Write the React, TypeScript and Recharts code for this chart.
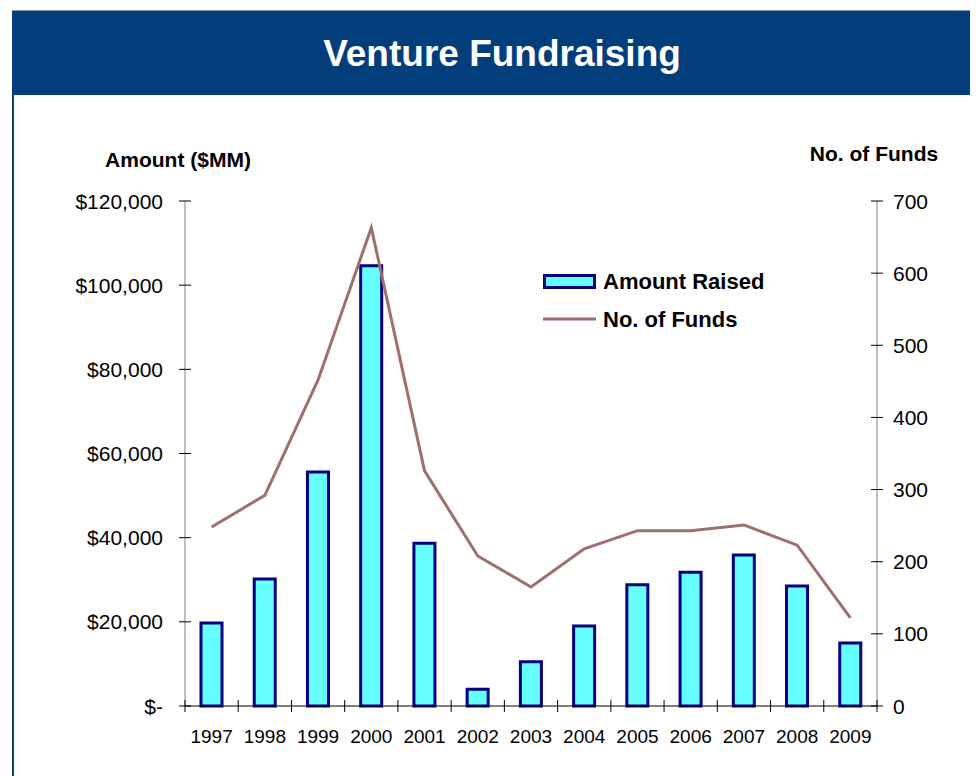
import { ComposedChart, Bar, Line, XAxis, YAxis } from 'recharts'

const years = ['1997', '1998', '1999', '2000', '2001', '2002', '2003', '2004', '2005', '2006', '2007', '2008', '2009']
const amountRaised = [19700, 30200, 55600, 104600, 38700, 4000, 10500, 19000, 28800, 31800, 35900, 28500, 15000]
const fundCount = [248, 292, 452, 663, 326, 208, 165, 218, 243, 243, 251, 223, 122]
const amountTicks = [0, 20000, 40000, 60000, 80000, 100000, 120000]
const fundTicks = [0, 100, 200, 300, 400, 500, 600, 700]

const data = years.map((year, i) => ({ year, amount: amountRaised[i], funds: fundCount[i] }))

const FONT = '"Liberation Sans", Arial, sans-serif'
const PLOT_W = 692
const BAND = PLOT_W / years.length

const fmtAmount = (v: number) => (v === 0 ? '$-' : '$' + v.toLocaleString('en-US'))

function LeftTick({ x, y, payload }: any) {
  return (
    <g>
      <line x1={x - 6} x2={x + 6} y1={y} y2={y} stroke="#000" />
      <text x={x - 22} y={y} dy="0.36em" textAnchor="end" fontSize={21} fill="#000" fontFamily={FONT}>
        {fmtAmount(payload.value)}
      </text>
    </g>
  )
}

function RightTick({ x, y, payload }: any) {
  return (
    <g>
      <line x1={x - 6} x2={x + 6} y1={y} y2={y} stroke="#000" />
      <text x={x + 16} y={y} dy="0.36em" textAnchor="start" fontSize={21} fill="#000" fontFamily={FONT}>
        {payload.value}
      </text>
    </g>
  )
}

function YearTick({ x, y, payload, index }: any) {
  const left = x - BAND / 2
  return (
    <g>
      <line x1={left} x2={left} y1={y - 6} y2={y + 6} stroke="#000" />
      {index === years.length - 1 && (
        <line x1={x + BAND / 2} x2={x + BAND / 2} y1={y - 6} y2={y + 6} stroke="#000" />
      )}
      <text x={x} y={y + 37} textAnchor="middle" fontSize={19} fill="#000" fontFamily={FONT}>
        {payload.value}
      </text>
    </g>
  )
}

function LegendBox() {
  return (
    <svg width={260} height={70} style={{ display: 'block' }}>
      <rect x={1.5} y={5.5} width={50} height={12} fill="#66FFFF" stroke="#000080" strokeWidth={3} />
      <text x={60} y={19} fontSize={22} fontWeight="bold" fontFamily={FONT} fill="#000">
        Amount Raised
      </text>
      <line x1={0} x2={53} y1={49} y2={49} stroke="#9F6F6B" strokeWidth={3} />
      <text x={60} y={57} fontSize={22} fontWeight="bold" fontFamily={FONT} fill="#000">
        No. of Funds
      </text>
    </svg>
  )
}

export default function App() {
  return (
    <div style={{ position: 'relative', width: 970, height: 768, fontFamily: FONT, background: '#fff' }}>
      <div style={{ position: 'absolute', left: 4, top: 2, width: 966, height: 1, background: '#8a97a8' }} />
      <div
        style={{
          position: 'absolute',
          left: 4,
          top: 3,
          width: 966,
          height: 84,
          background: '#033E7C',
        }}
      />
      <div
        style={{
          position: 'absolute',
          left: 0,
          top: 24,
          width: 988,
          textAlign: 'center',
          color: '#fff',
          fontSize: 37,
          fontWeight: 'bold',
          lineHeight: '44px',
        }}
      >
        Venture Fundraising
      </div>
      <div style={{ position: 'absolute', left: 4, top: 3, width: 2, height: 765, background: '#0B3D78' }} />
      <div
        style={{
          position: 'absolute',
          left: 70,
          width: 200,
          top: 139,
          textAlign: 'center',
          fontSize: 21,
          fontWeight: 'bold',
          lineHeight: '26px',
        }}
      >
        Amount ($MM)
      </div>
      <div
        style={{
          position: 'absolute',
          left: 766,
          width: 200,
          top: 133,
          textAlign: 'center',
          fontSize: 21,
          fontWeight: 'bold',
          lineHeight: '26px',
        }}
      >
        No. of Funds
      </div>
      <div style={{ position: 'absolute', left: 0, top: 0 }}>
        <ComposedChart
          width={970}
          height={768}
          data={data}
          margin={{ top: 193, right: 21, bottom: 30, left: 97 }}
          barCategoryGap={0}
        >
          <XAxis
            dataKey="year"
            height={40}
            tickSize={0}
            tickMargin={0}
            tickLine={false}
            axisLine={{ stroke: '#000', strokeWidth: 1 }}
            tick={<YearTick />}
            interval={0}
          />
          <YAxis
            yAxisId="left"
            width={80}
            domain={[0, 120000]}
            ticks={amountTicks}
            tickSize={0}
            tickMargin={0}
            tickLine={false}
            axisLine={{ stroke: '#808080' }}
            tick={<LeftTick />}
          />
          <YAxis
            yAxisId="right"
            orientation="right"
            width={80}
            domain={[0, 700]}
            ticks={fundTicks}
            tickSize={0}
            tickMargin={0}
            tickLine={false}
            axisLine={{ stroke: '#808080' }}
            tick={<RightTick />}
          />
          <Bar
            yAxisId="left"
            dataKey="amount"
            name="Amount Raised"
            barSize={21}
            fill="#66FFFF"
            stroke="#000080"
            strokeWidth={3}
            isAnimationActive={false}
          />
          <Line
            yAxisId="right"
            dataKey="funds"
            name="No. of Funds"
            type="linear"
            stroke="#9F6F6B"
            strokeWidth={3}
            dot={false}
            activeDot={false}
            isAnimationActive={false}
          />
        </ComposedChart>
      </div>
      <div style={{ position: 'absolute', left: 535, top: 262 }}>
        <LegendBox />
      </div>
    </div>
  )
}
